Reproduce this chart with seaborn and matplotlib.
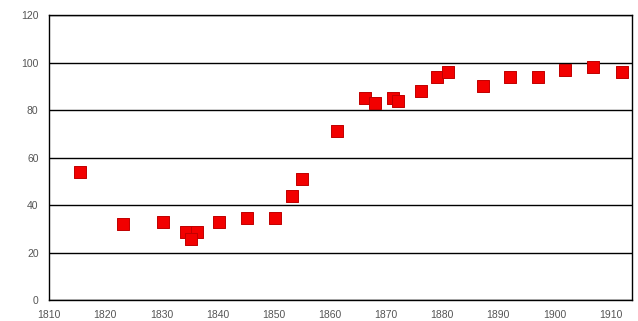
import numpy as np
import pandas as pd
import matplotlib
matplotlib.use("Agg")
import matplotlib.pyplot as plt
from matplotlib.ticker import MultipleLocator
import seaborn as sns

years = [1815.5, 1823.2, 1830.3, 1834.4, 1836.3, 1835.3, 1840.3, 1845.2, 1850.3,
         1853.2, 1855.1, 1861.2, 1866.3, 1868.1, 1871.3, 1872.1, 1876.2, 1879.0,
         1881.1, 1887.2, 1892.0, 1897.0, 1901.9, 1906.9, 1912.0]
values = [54, 32, 33, 28.5, 28.5, 25.5, 33, 34.5, 34.5,
          44, 51, 71, 85, 83, 85, 84, 88, 94,
          96, 90, 94, 94, 97, 98, 96]

df = pd.DataFrame({"year": years, "value": values})

sns.set_style("white")
plt.rcParams['font.family'] = ['Liberation Sans', 'DejaVu Sans']

fig = plt.figure(figsize=(6.38, 3.21), dpi=100)
ax = fig.add_axes([0.0768, 0.0654, 0.9138, 0.8876])

sns.scatterplot(data=df, x="year", y="value", ax=ax, marker="s", s=65,
                color="#f20000", edgecolor="#c00000", linewidth=0.7, zorder=3)

ax.set_xlim(1810, 1913.8)
ax.set_ylim(0, 120)
ax.xaxis.set_major_locator(MultipleLocator(10))
ax.xaxis.set_minor_locator(MultipleLocator(5))
ax.yaxis.set_major_locator(MultipleLocator(20))
ax.yaxis.grid(True, color="black", linewidth=1.0)
ax.set_axisbelow(True)
for sp in ax.spines.values():
    sp.set_color("black")
    sp.set_linewidth(1.0)
ax.tick_params(axis="both", which="both", direction="out", colors="#333333",
               labelcolor="#555555", labelsize=7.5)
ax.tick_params(axis="both", which="major", length=4, width=0.8)
ax.tick_params(axis="x", which="minor", length=4, width=0.8)
ax.set_xlabel("")
ax.set_ylabel("")

fig.savefig("out.png", dpi=100)
